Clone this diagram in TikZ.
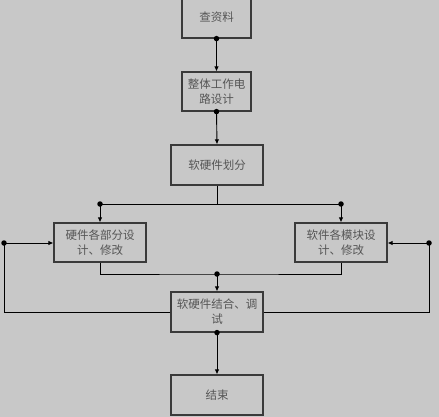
\documentclass[tikz,border=0pt]{standalone}
\usepackage{fontspec}
\newfontfamily\cjk{Noto Sans CJK SC}
\usepackage{tikz}
\usetikzlibrary{arrows.meta}

\definecolor{bggray}{HTML}{C8C8C8}
\definecolor{boxline}{HTML}{3A3A3A}
\definecolor{textgray}{HTML}{555555}

\tikzset{
    stepbox/.style={draw=boxline, line width=1.2pt, fill=bggray, text=textgray,
        font=\cjk\fontsize{11.5}{15}\selectfont, align=center,
        minimum width=92pt, minimum height=40pt, inner sep=1pt},
    smallbox/.style={stepbox, minimum width=69pt, minimum height=39pt},
    link/.style={line width=0.9pt, draw=black},
    flow/.style={link, -{Latex[length=5pt,width=4.5pt]}},
    dot/.style={fill=black, circle, inner sep=0pt, minimum size=5.5pt}
}

\begin{document}
\begin{tikzpicture}[x=1pt, y=-1pt]
    % Background
    \fill[bggray] (0,0) rectangle (439,417);
    \useasboundingbox (0,0) rectangle (439,417);

    % Steps
    \node[smallbox, minimum height=42pt] (cha) at (216.5,17) {查资料};
    \node[smallbox] (zhengti) at (216.5,91.5) {整体工作电\\路设计};
    \node[stepbox] (huafen) at (217,165) {软硬件划分};
    \node[stepbox, minimum height=39pt] (yingjian) at (100,242.5) {硬件各部分设\\计、修改};
    \node[stepbox, minimum height=39pt] (ruanjian) at (341,242.5) {软件各模块设\\计、修改};
    \node[stepbox] (jiehe) at (217,312) {软硬件结合、调\\试};
    \node[stepbox] (jieshu) at (217,395) {结束};

    % Helper points
    \coordinate (split) at (217,204);
    \coordinate (merge) at (217,274);
    \coordinate (lback) at (4,243);
    \coordinate (rback) at (429,243);

    % Main line
    \draw[flow] (cha.south) -- (zhengti.north);
    \node[dot] at (cha.south) {};
    \draw[flow] (zhengti.south) -- (huafen.north);
    \node[dot] at (zhengti.south) {};

    % Split into hardware / software
    \draw[link] (huafen.south) -- (split);
    \draw[link] (yingjian.north |- split) -- (ruanjian.north |- split);
    \draw[flow] (yingjian.north |- split) -- (yingjian.north);
    \draw[flow] (ruanjian.north |- split) -- (ruanjian.north);
    \node[dot] at (yingjian.north |- split) {};
    \node[dot] at (ruanjian.north |- split) {};

    % Merge
    \draw[link] (yingjian.south) |- (merge) -| (ruanjian.south);
    \draw[flow] (merge) -- (jiehe.north);
    \node[dot] at (merge) {};

    % Feedback loops
    \draw[link] (jiehe.west) -| (lback);
    \draw[flow] (lback) -- (yingjian.west |- lback);
    \node[dot] at (lback) {};
    \draw[link] (jiehe.east) -| (rback);
    \draw[flow] (rback) -- (ruanjian.east |- rback);
    \node[dot] at (rback) {};

    % End
    \draw[flow] (jiehe.south) -- (jieshu.north);
    \node[dot] at (jiehe.south) {};
\end{tikzpicture}
\end{document}
